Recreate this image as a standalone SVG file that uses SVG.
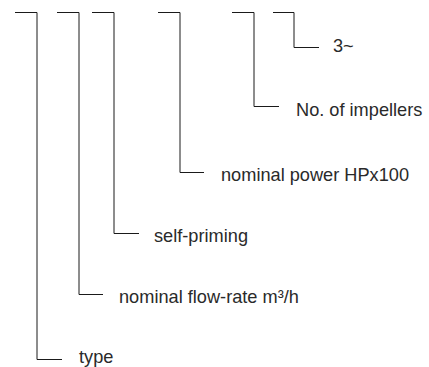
<svg xmlns="http://www.w3.org/2000/svg" width="429" height="367" viewBox="0 0 429 367">
<style>
.c{fill:none;stroke:#1a1a1a;stroke-width:1}
.t{font-family:"Liberation Sans",Arial,sans-serif;font-size:18.2px;fill:#2a2a2a}
</style>
<rect width="429" height="367" fill="#fff"/>
<g id="connectors">
<path class="c" d="M15,12.5H37V359.5H62"/>
<path class="c" d="M57,12.5H79V294.5H103"/>
<path class="c" d="M92,12.5H114V233.5H139"/>
<path class="c" d="M158,12.5H180V172.5H204"/>
<path class="c" d="M232,12.5H254V106.5H279"/>
<path class="c" d="M273,12.5H294V47.5H319"/>
</g>
<g id="n-type"><text class="t" x="79" y="363">type</text></g>
<g id="n-flow"><text class="t" x="119" y="303">nominal flow-rate m³/h</text></g>
<g id="n-self"><text class="t" x="154" y="242">self-priming</text></g>
<g id="n-power"><text class="t" x="221" y="181">nominal power HPx100</text></g>
<g id="n-impellers"><text class="t" x="296" y="116">No. of impellers</text></g>
<g id="n-phase"><text class="t" x="333" y="52">3~</text></g>
</svg>
